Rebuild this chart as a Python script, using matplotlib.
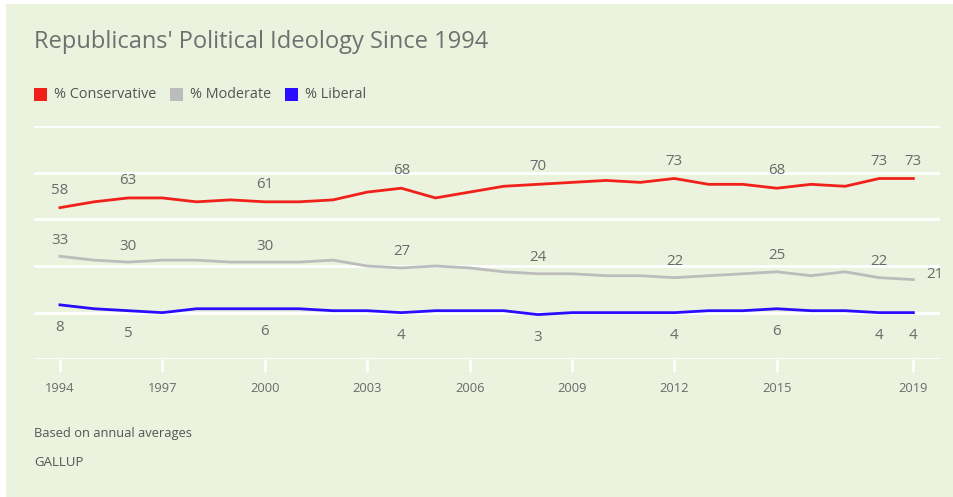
import matplotlib
matplotlib.use("Agg")
import matplotlib.pyplot as plt
from matplotlib.patches import Rectangle

years = list(range(1994, 2020))
conservative = [58, 61, 63, 63, 61, 62, 61, 61, 62, 66, 68, 63, 66, 69, 70, 71, 72, 71, 73, 70, 70, 68, 70, 69, 73, 73]
moderate = [33, 31, 30, 31, 31, 30, 30, 30, 31, 28, 27, 28, 27, 25, 24, 24, 23, 23, 22, 23, 24, 25, 23, 25, 22, 21]
liberal = [8, 6, 5, 4, 6, 6, 6, 6, 5, 5, 4, 5, 5, 5, 3, 4, 4, 4, 4, 5, 5, 6, 5, 5, 4, 4]

labeled_years = [1994, 1996, 2000, 2004, 2008, 2012, 2015, 2018, 2019]
tick_years = [1994, 1997, 2000, 2003, 2006, 2009, 2012, 2015, 2019]

series = [
    ("% Conservative", conservative, "#f0201a"),
    ("% Moderate", moderate, "#bcbcbc"),
    ("% Liberal", liberal, "#2a0cff"),
]

BG = "#ebf2dd"
TXT = "#6a6a6a"

fig = plt.figure(figsize=(9.54, 4.97), dpi=100)
fig.patch.set_facecolor(BG)
# thin white strips at left and top
fig.patches.append(Rectangle((0, 0), 6 / 954, 1, transform=fig.transFigure,
                             facecolor="white", edgecolor="none"))
fig.patches.append(Rectangle((0, 1 - 4 / 497), 1, 4 / 497, transform=fig.transFigure,
                             facecolor="white", edgecolor="none"))

ax = fig.add_axes([34 / 954, 1 - 359.3 / 497, 906 / 954, 233.3 / 497])
ax.set_zorder(2)
ax.patch.set_alpha(0)
ax.set_xlim(1993.24, 2019.78)
ax.set_ylim(-20, 100)
for s in ax.spines.values():
    s.set_visible(False)

for g in [-20, 4, 28, 52, 76, 100]:
    ax.axhline(g, color="white", lw=2, zorder=1)

for name, vals, col in series:
    ax.plot(years, vals, color=col, lw=2, zorder=3, solid_joinstyle="round")

# value labels
lab = dict(fontsize=10.8, color=TXT, family="Open Sans", textcoords="offset points", va="center")
for y in labeled_years:
    i = years.index(y)
    ax.annotate(str(conservative[i]), (y, conservative[i]), xytext=(0, 12.5), ha="center", **lab)
    if y == 2019:
        ax.annotate(str(moderate[i]), (y, moderate[i]), xytext=(9, 3.5), ha="left", **lab)
    else:
        ax.annotate(str(moderate[i]), (y, moderate[i]), xytext=(0, 11.5), ha="center", **lab)
    ax.annotate(str(liberal[i]), (y, liberal[i]), xytext=(0, -16.5), ha="center", **lab)

ax.set_yticks([])
ax.set_xticks(tick_years)
ax.set_xticklabels([str(t) for t in tick_years], family="Open Sans", fontsize=9.3, color=TXT)
ax.tick_params(axis="x", length=9, width=2, color="white", pad=7)

# title
fig.text(34 / 954, 1 - 42 / 497, "Republicans' Political Ideology Since 1994", fontsize=17,
         color="#707070", family="Open Sans", va="center", ha="left")

# legend
lx = 34
for name, vals, col in series:
    fig.patches.append(Rectangle((lx / 954, 1 - 101 / 497), 13 / 954, 13 / 497,
                                 transform=fig.transFigure, facecolor=col, edgecolor="none"))
    t = fig.text((lx + 20) / 954, 1 - 94.5 / 497, name, fontsize=10.4, color="#555555",
                 family="Open Sans", va="center", ha="left")
    fig.canvas.draw()
    bb = t.get_window_extent()
    lx = bb.x1 + 14

fig.text(34 / 954, 1 - 433 / 497, "Based on annual averages", fontsize=9.3, color="#555555",
         family="Open Sans", va="center", ha="left")
fig.text(34 / 954, 1 - 462 / 497, "GALLUP", fontsize=9.5, color="#555555",
         family="Open Sans", va="center", ha="left")

fig.savefig("out.png", dpi=100, facecolor=fig.get_facecolor())
